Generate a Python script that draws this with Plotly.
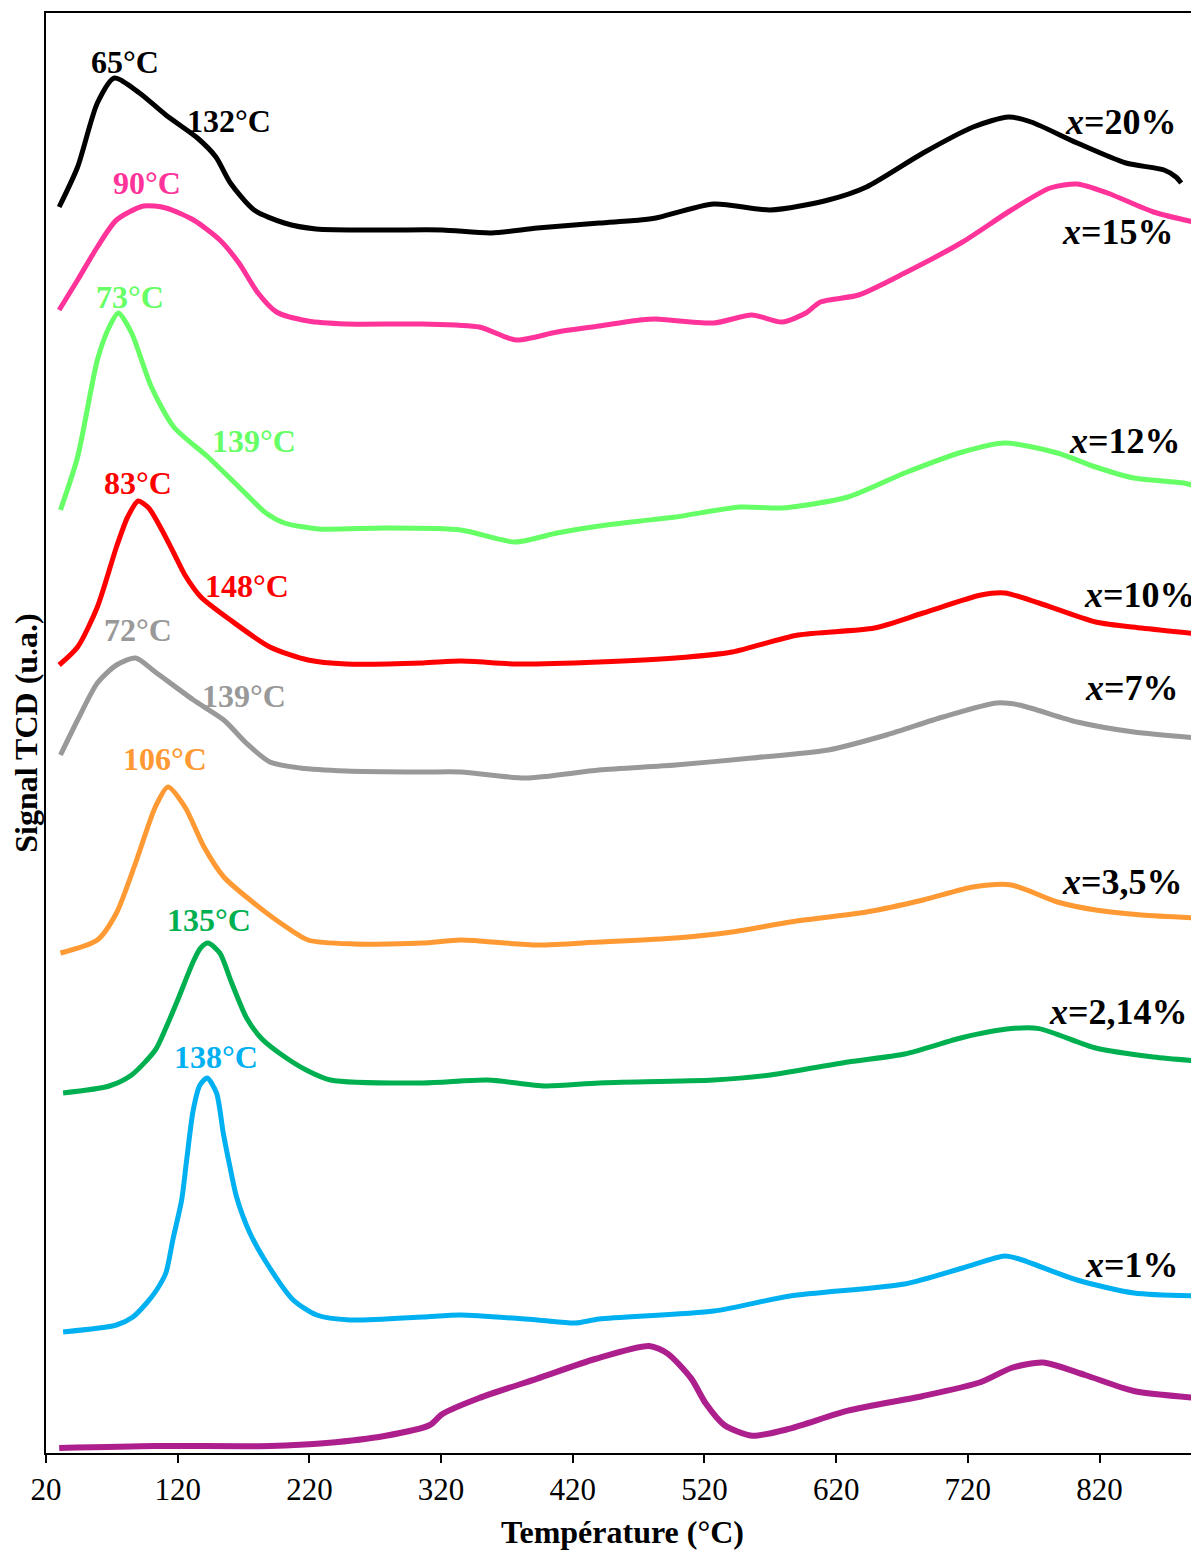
import plotly.graph_objects as go

# ---- data (temperature in °C, TCD signal in arbitrary units, curves offset) ----
t_20 = [30, 44, 59, 72, 91, 111, 135, 149, 160, 178, 201, 225, 277, 321, 358, 393, 440, 471, 483, 527,
        570, 614, 643, 686, 724, 751, 768, 803, 840, 869, 878, 882]
s_20 = [1246, 1286, 1350, 1375, 1360, 1338, 1315, 1296, 1270, 1243, 1230, 1224, 1223, 1223, 1220, 1225, 1230, 1233, 1235, 1249,
        1243, 1253, 1266, 1300, 1326, 1336, 1331, 1310, 1290, 1283, 1276, 1270]

t_15 = [30, 44, 59, 73.5, 94, 111, 132, 152, 166.5, 181, 195, 219, 248, 306, 349, 377, 408, 440, 471, 483,
        527, 556, 579, 597, 608, 637, 672, 716, 753, 782.5, 803, 826, 861, 895]
s_15 = [1143, 1173, 1206, 1233, 1247, 1245, 1233, 1213, 1190, 1160, 1141, 1132, 1129, 1129, 1126, 1113, 1121, 1127, 1133, 1134,
        1130, 1138, 1131, 1140, 1151, 1158, 1180, 1211, 1243, 1265, 1269, 1260, 1241, 1230]

t_12 = [31, 44, 59, 68, 75, 85, 100, 117, 143, 166.5, 187, 201, 227, 277, 335, 376, 408, 440, 471, 498,
        547, 579, 629, 672, 716, 748, 788, 817, 846, 884, 895]
s_12 = [943, 996, 1093, 1126, 1140, 1120, 1066, 1026, 996, 966, 940, 930, 924, 925, 923, 911, 920, 927, 932, 936,
        946, 945, 956, 980, 1001, 1010, 1000, 986, 975, 970, 966]

t_10 = [30, 44, 59, 73.5, 82, 90, 98, 108, 117, 125.5, 137.6, 160, 190, 219, 248, 306, 335, 378, 440, 498,
        541, 591, 649, 686, 730, 748, 774, 817, 852, 895]
s_10 = [788, 806, 846, 906, 936, 952, 945, 923, 900, 878, 856, 833, 806, 793, 789, 790, 792, 789, 791, 795,
        801, 818, 825, 840, 858, 860, 850, 831, 825, 819]

t_7 = [31, 44, 59, 73.5, 88, 103, 132, 155, 172, 190, 213, 248, 306, 335, 384, 440, 498, 556, 614, 658,
       701, 742, 759, 803, 846, 895]
s_7 = [698, 733, 770, 788, 795, 781, 753, 733, 710, 691, 685, 682, 681, 681, 675, 683, 688, 695, 703, 718,
       736, 750, 748, 731, 721, 715]

t_35 = [31, 59, 73.5, 88, 103, 112.6, 125.5, 140, 155, 175, 198, 219, 254, 306, 335, 393, 440, 498, 541, 585,
        643, 686, 724, 753, 788, 817, 852, 895]
s_35 = [500, 513, 540, 590, 646, 666, 646, 606, 576, 553, 530, 513, 509, 510, 513, 508, 511, 515, 521, 531,
        541, 553, 566, 568, 551, 543, 538, 535]

t_214 = [33, 68, 85, 103, 111, 120, 132, 137.4, 143, 152, 160.7, 172.3, 184, 201.4, 219, 236, 306, 355.5, 399, 440,
         527, 570, 629, 672, 716, 753, 774, 817, 861, 895]
s_214 = [360, 367, 378, 403, 425, 453, 492, 505, 510, 500, 471, 435, 414, 396, 382, 373, 370, 373, 367, 370,
         373, 378, 391, 399, 415.5, 424.4, 424.4, 405, 396, 392]

t_1 = [33, 73.5, 86, 96.4, 104, 111, 116.6, 123, 126.8, 131.8, 136.9, 142.4, 149.5, 154.6, 159.7, 164.7, 174.8, 187.5,
       207.7, 225.5, 250.7, 306, 335, 393, 422, 440, 527, 585, 672, 716, 748, 759, 803, 846, 895]
s_1 = [121, 128, 136, 150, 163, 180, 215, 253, 293, 343, 368, 375, 360, 320, 286, 256, 220, 190,
       153, 138, 133, 136, 138, 133, 130, 134, 142, 157, 169, 185, 197, 194, 173, 160, 157]

t_0 = [30, 103, 190, 233, 277, 311.5, 321, 349, 393, 437, 478, 492, 510, 521, 535, 556, 585, 629, 686, 730,
       753, 777, 809, 846, 895]
s_0 = [5, 7, 7, 10, 17, 28, 39, 55, 74.4, 94, 107, 99.4, 74.4, 49.4, 28, 17.3, 24.4, 42.3, 57, 71,
       85, 90.5, 78, 62, 55]

series_names = ["x=20%", "x=15%", "x=12%", "x=10%", "x=7%", "x=3,5%", "x=2,14%", "x=1%", "support"]
series_t = [t_20, t_15, t_12, t_10, t_7, t_35, t_214, t_1, t_0]
series_s = [s_20, s_15, s_12, s_10, s_7, s_35, s_214, s_1, s_0]
colors = ["#000000", "#FF3399", "#66FF66", "#FF0000", "#999999", "#FF9933", "#00B050", "#00B0F0", "#AE1F8E"]
widths = [5, 5, 5, 5, 5, 5, 5, 5, 6]

# peak labels: (text, temperature, signal, colour index)
peak_text = ["65°C", "132°C", "90°C", "73°C", "139°C", "83°C", "148°C", "72°C", "139°C", "106°C", "135°C", "138°C"]
peak_t = [80, 159, 96.7, 83.8, 178, 89.8, 172.6, 89.8, 170.3, 110.3, 143.7, 149]
peak_s = [1391, 1332, 1270, 1156, 1012, 970, 867, 823, 757, 694, 533, 396]
peak_c = [0, 0, 1, 2, 2, 3, 3, 4, 4, 5, 6, 7]

# series name labels
name_text = ["20%", "15%", "12%", "10%", "7%", "3,5%", "2,14%", "1%"]
name_t = [836, 833.7, 839, 851, 845, 837.5, 834.4, 845]
name_s = [1331, 1221, 1012, 858, 765, 571, 441, 188]

tick_vals = [20, 120, 220, 320, 420, 520, 620, 720, 820]

FONT = "Liberation Serif, Times New Roman, serif"

fig = go.Figure()
for name, t, s, c, w in zip(series_names, series_t, series_s, colors, widths):
    fig.add_trace(go.Scatter(x=t, y=s, mode="lines", name=name,
                             line=dict(color=c, width=w, shape="spline", smoothing=0.7)))

for txt, t, s, ci in zip(peak_text, peak_t, peak_s, peak_c):
    fig.add_annotation(x=t, y=s, text=f"<b>{txt}</b>", showarrow=False,
                       font=dict(family=FONT, size=32, color=colors[ci]))

for txt, t, s in zip(name_text, name_t, name_s):
    fig.add_annotation(x=t, y=s, text=f"<b><i>x</i>={txt}</b>", showarrow=False,
                       font=dict(family=FONT, size=36, color="#000000"))

# page body has an 8px margin: compensate so the plot lands where the reference has it
fig.update_layout(
    width=1191, height=1543,
    margin=dict(l=38, r=0, t=5, b=98),
    paper_bgcolor="white", plot_bgcolor="white",
    showlegend=False,
    font=dict(family=FONT, size=31, color="black"),
    xaxis=dict(range=[20, 895.5], tickvals=tick_vals, ticks="outside", ticklen=8, tickwidth=2,
               tickcolor="black", showline=True, linewidth=2, linecolor="black", mirror=True,
               showgrid=False, zeroline=False, tickfont=dict(family=FONT, size=31),
               title=dict(text="<b>Température (°C)</b>", font=dict(family=FONT, size=32), standoff=14)),
    yaxis=dict(range=[0, 1440], showticklabels=False, ticks="", showline=True, linewidth=2,
               linecolor="black", showgrid=False, zeroline=False,
               title=dict(text="<b>Signal TCD (u.a.)</b>", font=dict(family=FONT, size=32), standoff=0)),
)

fig.write_html("out.html")
